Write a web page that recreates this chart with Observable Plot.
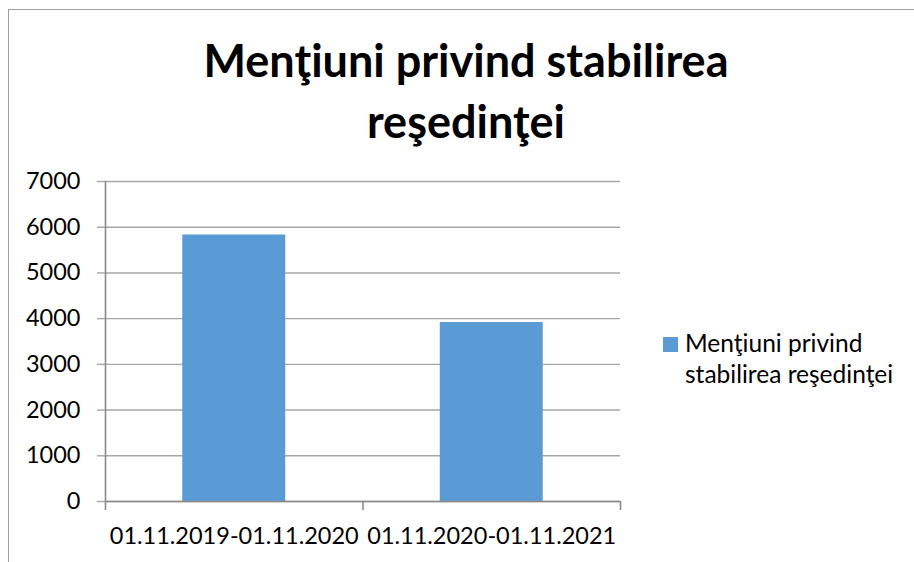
<!DOCTYPE html>
<html>
<head>
<meta charset="utf-8">
<script src="https://cdn.jsdelivr.net/npm/d3@7"></script>
<script src="https://cdn.jsdelivr.net/npm/@observablehq/plot@0.6"></script>
<style>
  html, body { margin: 0; padding: 0; background: #fff; }
  #wrap { position: relative; width: 914px; height: 562px; overflow: hidden; font-family: Lato, "Open Sans", sans-serif; }
  #frame { position: absolute; left: 8px; top: 9px; width: 1000px; height: 700px; border-left: 1.5px solid #a0a0a0; border-top: 1.5px solid #a0a0a0; }
  #title { position: absolute; left: 116px; width: 700px; top: 30px; text-align: center; font-weight: 700; font-size: 45px; line-height: 61px; color: #000; }
  #legend { position: absolute; left: 663px; top: 327px; font-size: 24.5px; line-height: 31px; color: #000; }
  #legend .sw { position: absolute; left: 0; top: 10px; width: 15px; height: 15px; background: #5b9bd5; }
  #legend .tx { position: absolute; left: 22px; top: 0; white-space: nowrap; }
  #chart { position: absolute; left: 0; top: 0; }
</style>
</head>
<body>
<div id="wrap">
  <div id="frame"></div>
  <div id="chart"></div>
  <div id="title"></div>
  <div id="legend"><div class="sw"></div><div class="tx"></div></div>
</div>
<script>
const title = "Menţiuni privind stabilirea reşedinţei";
const titleLines = ["Menţiuni privind stabilirea", "reşedinţei"];
const seriesName = "Menţiuni privind stabilirea reşedinţei";
const legendLines = ["Menţiuni privind", "stabilirea reşedinţei"];
const categories = ["01.11.2019-01.11.2020", "01.11.2020-01.11.2021"];
const values = [5830, 3915];
const yTicks = [0, 1000, 2000, 3000, 4000, 5000, 6000, 7000];

const data = categories.map((c, i) => ({category: c, index: i, value: values[i]}));
const boundaries = d3.range(categories.length + 1);
const centers = categories.map((c, i) => i + 0.5);

document.getElementById("title").innerHTML = titleLines.join("<br>");
document.querySelector("#legend .tx").innerHTML = legendLines.join("<br>");

const gridColor = "#a6a6a6";
const axisColor = "#8a8a8a";

const chart = Plot.plot({
  width: 914,
  height: 562,
  marginLeft: 105,
  marginRight: 294,
  marginTop: 181,
  marginBottom: 61,
  style: {background: "transparent", fontFamily: "Lato, 'Open Sans', sans-serif", fontSize: "23.5px", color: "#000"},
  x: {type: "linear", domain: [0, categories.length]},
  y: {domain: [0, yTicks[yTicks.length - 1]]},
  marks: [
    Plot.ruleY(yTicks, {stroke: gridColor, strokeWidth: 1.4}),
    Plot.axisY({ticks: yTicks, tickSize: 8, tickPadding: 17, tickFormat: d => String(d), stroke: gridColor, strokeWidth: 1.4, fill: "#000", label: null, fontSize: 23.5}),
    Plot.rectY(data, {x1: d => d.index + 0.3, x2: d => d.index + 0.7, y1: 0, y2: "value", fill: "#5b9bd5"}),
    Plot.ruleY([0], {stroke: axisColor, strokeWidth: 1.6}),
    Plot.ruleX([0], {y1: 0, y2: yTicks[yTicks.length - 1], stroke: axisColor, strokeWidth: 1.6}),
    Plot.axisX({ticks: boundaries, tickSize: 9, tickFormat: () => "", stroke: axisColor, strokeWidth: 1.6, label: null}),
    Plot.axisX({ticks: centers, tickSize: 0, tickPadding: 26, tickFormat: v => categories[Math.round(v - 0.5)], fill: "#000", label: null, fontSize: 23.5})
  ]
});
document.getElementById("chart").appendChild(chart);
</script>
</body>
</html>
